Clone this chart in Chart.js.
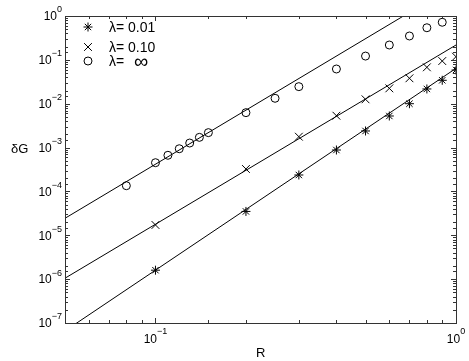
<!DOCTYPE html>
<html><head><meta charset="utf-8">
<script src="https://cdn.jsdelivr.net/npm/chart.js@4"></script>
<style>html,body{margin:0;padding:0;background:#fff}#wrap{width:469px;height:361px}</style>
</head><body><div id="wrap"><canvas id="c" width="469" height="361"></canvas></div>
<script>
// Data
const rStar = [0.1, 0.2, 0.3, 0.4, 0.5, 0.6, 0.7, 0.8, 0.9, 1.0];
const gStar = [1.6e-6, 3.5e-5, 2.37e-4, 8.8e-4, 2.39e-3, 5.25e-3, 1.0e-2, 2.17e-2, 3.42e-2, 5.87e-2];
const rCross = [0.1, 0.2, 0.3, 0.4, 0.5, 0.6, 0.7, 0.8, 0.9, 1.0];
const gCross = [1.72e-5, 3.25e-4, 1.77e-3, 5.33e-3, 1.26e-2, 2.24e-2, 3.8e-2, 6.76e-2, 9.4e-2, 0.118];
const rCircle = [0.08, 0.1, 0.11, 0.12, 0.13, 0.14, 0.15, 0.2, 0.25, 0.3, 0.4, 0.5, 0.6, 0.7, 0.8, 0.9];
const gCircle = [1.35e-4, 4.52e-4, 6.67e-4, 9.4e-4, 1.27e-3, 1.71e-3, 2.19e-3, 6.25e-3, 1.33e-2, 2.45e-2, 6.19e-2, 0.122, 0.218, 0.35, 0.54, 0.72];
// fit lines (end points)
const rFit = [0.05, 1.0];
const gFitCircle = [2.44e-5, 5.2];
const gFitCross = [1.05e-6, 0.218];
const gFitStar = [6.6e-8, 0.064];
const legendLabels = [['λ= ', '0.01'], ['λ= ', '0.10'], ['λ=  ', '∞']];
const xTickLabels = [{v: 0.1, e: '−1'}, {v: 1, e: '0'}];
const yTickLabels = [{v:1,e:'0'},{v:1e-1,e:'−1'},{v:1e-2,e:'−2'},{v:1e-3,e:'−3'},{v:1e-4,e:'−4'},{v:1e-5,e:'−5'},{v:1e-6,e:'−6'},{v:1e-7,e:'−7'}];
const xTitle = 'R', yTitle = 'δG';

const pts = (xs, ys) => xs.map((x, i) => ({x, y: ys[i]}));
const FONT = '"Liberation Sans", Arial, sans-serif';
const R_STAR = 4.5, R_CROSS = 5.5, R_CIRCLE = 4;

const isMajor = v => Math.abs(Math.log10(v) - Math.round(Math.log10(v))) < 1e-6;

const decor = {
  id: 'decor',
  afterDraw(chart) {
    const {ctx, chartArea: a, scales: {x, y}} = chart;
    ctx.save();
    ctx.strokeStyle = '#333';
    ctx.lineWidth = 1;
    ctx.strokeRect(a.left + 0.5, a.top + 0.5, a.right - a.left, a.bottom - a.top);
    ctx.beginPath();
    x.ticks.forEach(t => {
      const v = t.value;
      if (v < x.min - 1e-12 || v > x.max + 1e-12) return;
      const px = Math.round(x.getPixelForValue(v)) + 0.5;
      const L = isMajor(v) ? 5 : 3;
      ctx.moveTo(px, a.bottom); ctx.lineTo(px, a.bottom - L);
      ctx.moveTo(px, a.top); ctx.lineTo(px, a.top + L);
    });
    y.ticks.forEach(t => {
      const v = t.value;
      if (v < y.min * 0.999 || v > y.max * 1.001) return;
      const py = Math.round(y.getPixelForValue(v)) + 0.5;
      const L = isMajor(v) ? 5 : 3;
      ctx.moveTo(a.left, py); ctx.lineTo(a.left + L, py);
      ctx.moveTo(a.right, py); ctx.lineTo(a.right - L, py);
    });
    ctx.stroke();

    ctx.fillStyle = '#000';
    ctx.textBaseline = 'middle';
    const base = '12px ' + FONT, sup = '9px ' + FONT;
    // x labels
    xTickLabels.forEach(l => {
      const px = x.getPixelForValue(l.v);
      ctx.font = base; const w1 = ctx.measureText('10').width;
      ctx.font = sup; const w2 = ctx.measureText(l.e).width;
      const x0 = px - (w1 + w2) / 2;
      ctx.font = base; ctx.textAlign = 'left'; ctx.fillText('10', x0, 340);
      ctx.font = sup; ctx.fillText(l.e, x0 + w1, 332);
    });
    // y labels
    yTickLabels.forEach(l => {
      const py = y.getPixelForValue(l.v);
      ctx.font = sup; const w2 = ctx.measureText(l.e).width;
      ctx.textAlign = 'left';
      ctx.fillText(l.e, 62 - w2, py - 6);
      ctx.font = base; ctx.textAlign = 'right';
      ctx.fillText('10', 62 - w2, py + 1);
    });
    // axis titles
    ctx.font = '13px ' + FONT;
    ctx.textAlign = 'left';
    ctx.fillText(yTitle, 11, 149);
    ctx.fillText(xTitle, 256, 353);

    // legend
    const ly = [27, 47, 61];
    const styles = [['star', R_STAR], ['crossRot', R_CROSS], ['circle', R_CIRCLE]];
    styles.forEach((s, i) => {
      ctx.fillStyle = 'rgba(0,0,0,0)';
      ctx.strokeStyle = '#000';
      ctx.lineWidth = 1;
      Chart.helpers.drawPoint(ctx, {pointStyle: s[0], radius: s[1], borderWidth: 1}, 88, ly[i]);
    });
    ctx.fillStyle = '#000';
    ctx.textAlign = 'left';
    legendLabels.forEach((t, i) => {
      ctx.font = '14px ' + FONT;
      ctx.fillText(t[0], 109, ly[i] + 1);
      const w = ctx.measureText(t[0]).width;
      if (t[1] === '∞') {
        ctx.font = '20px ' + FONT;
        ctx.fillText(t[1], 109 + w + 2, ly[i] + 1);
      } else {
        ctx.fillText(t[1], 109 + w, ly[i] + 1);
      }
    });
    ctx.restore();
  }
};

const markerDs = (data, style, r) => ({
  type: 'scatter', data, showLine: false, pointStyle: style, pointRadius: r,
  borderColor: '#000', backgroundColor: 'rgba(0,0,0,0)', borderWidth: 1, pointHoverRadius: r
});
const lineDs = (data) => ({
  type: 'line', data, showLine: true, pointRadius: 0, borderColor: '#000',
  borderWidth: 1, fill: false, tension: 0
});

new Chart(document.getElementById('c'), {
  type: 'scatter',
  data: {
    datasets: [
      lineDs(pts(rFit, gFitCircle)),
      lineDs(pts(rFit, gFitCross)),
      lineDs(pts(rFit, gFitStar)),
      markerDs(pts(rStar, gStar), 'star', R_STAR),
      markerDs(pts(rCross, gCross), 'crossRot', R_CROSS),
      markerDs(pts(rCircle, gCircle), 'circle', R_CIRCLE)
    ]
  },
  options: {
    responsive: false, animation: false, devicePixelRatio: 1,
    layout: {padding: {top: 16, right: 13, left: 0, bottom: 0}},
    plugins: {legend: {display: false}, tooltip: {enabled: false}},
    scales: {
      x: {type: 'logarithmic', min: 0.05, max: 1,
          grid: {display: false}, border: {display: false},
          ticks: {display: false},
          afterFit: s => { s.height = 38; }},
      y: {type: 'logarithmic', min: 1e-7, max: 1,
          grid: {display: false}, border: {display: false},
          ticks: {display: false},
          afterFit: s => { s.width = 65; }}
    }
  },
  plugins: [decor]
});
</script></body></html>
